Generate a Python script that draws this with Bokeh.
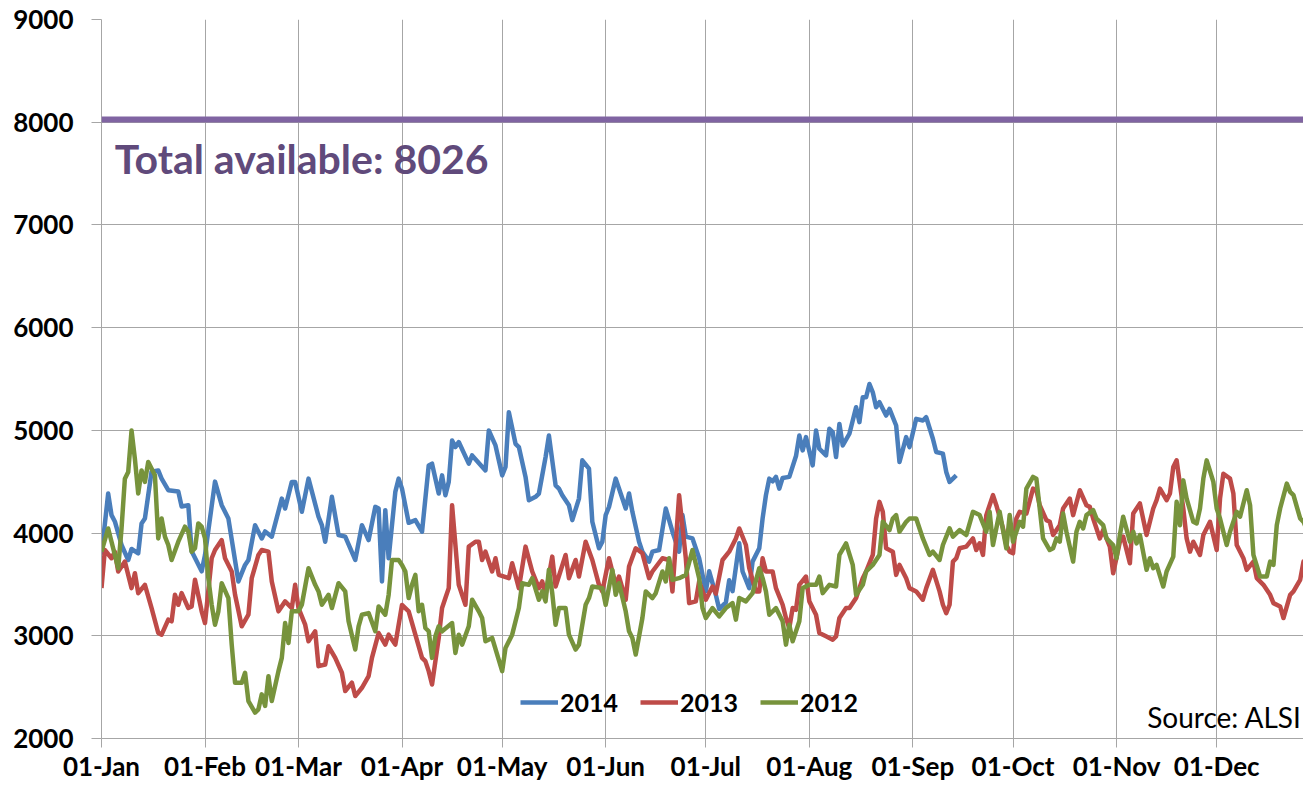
from bokeh.plotting import figure
from bokeh.models import FixedTicker, Span, Label, Legend, LegendItem, Range1d
from bokeh.embed import file_html
from bokeh.resources import INLINE

# ---- data ----
month_days = [0, 31, 59, 90, 120, 151, 181, 212, 243, 273, 304, 334]
month_labels = ["01-Jan", "01-Feb", "01-Mar", "01-Apr", "01-May", "01-Jun",
                "01-Jul", "01-Aug", "01-Sep", "01-Oct", "01-Nov", "01-Dec"]
y_ticks = [2000, 3000, 4000, 5000, 6000, 7000, 8000, 9000]
total_available = 8026
series_names = ["2014", "2013", "2012"]

# (day of year, value)
data_2014 = [(0,3790),(2,4385),(3,4175),(4,4113),(6,3884),(8,3738),(9,3845),(11,3803),(12,4094),(13,4142),
    (15,4598),(17,4610),(18,4530),(20,4417),(23,4404),(24,4259),(26,4271),(27,3822),(30,3628),(31,3786),
    (34,4501),(36,4271),(38,4142),(41,3529),(43,3690),(44,3738),(46,4077),(48,3948),(49,4016),(51,3965),
    (54,4336),(55,4239),(57,4498),(58,4498),(60,4207),(62,4530),(65,4159),(66,4077),(67,3916),(69,4353),
    (71,3981),(73,3965),(76,3738),(78,4077),(80,3932),(82,4255),(83,4239),(84,3529),(85,4223),(86,3755),
    (88,4401),(89,4530),(90,4433),(92,4100),(94,4126),(96,4013),(98,4659),(99,4676),(101,4385),(102,4562),
    (103,4369),(104,4498),(105,4902),(106,4837),(107,4886),(110,4676),(111,4756),(115,4610),(116,4999),
    (118,4853),(120,4562),(121,4643),(122,5177),(124,4869),(125,4837),(127,4547),(128,4320),(130,4353),
    (131,4385),(133,4740),(134,4950),(136,4465),(137,4433),(138,4369),(140,4271),(141,4126),(143,4336),
    (144,4708),(146,4627),(147,4110),(149,3852),(150,3916),(151,4175),(152,4255),(154,4530),(156,4336),
    (157,4239),(158,4385),(159,4207),(161,3916),(162,3819),(164,3722),(165,3819),(167,3835),(169,4239),
    (171,4013),(173,3819),(174,4175),(175,3965),(177,3948),(179,3755),(181,3435),(182,3628),(184,3398),
    (185,3260),(187,3325),(188,3540),(189,3434),(191,3900),(192,3626),(194,3464),(195,3722),(197,3852),
    (198,4142),(199,4369),(200,4530),(201,4504),(202,4547),(203,4433),(204,4537),(206,4547),(208,4750),
    (209,4950),(210,4805),(211,4934),(213,4659),(214,4999),(215,4821),(217,4756),(218,5015),(219,4983),
    (220,4740),(221,5063),(222,4853),(224,4967),(225,5096),(226,5225),(227,5080),(228,5322),(229,5322),
    (230,5451),(231,5370),(232,5225),(233,5274),(235,5144),(236,5209),(238,5047),(239,4692),(241,4934),
    (242,4837),(244,5112),(246,5096),(247,5128),(249,4918),(250,4789),(252,4773),(253,4595),(254,4498),
    (256,4562)]

data_2013 = [(0,3464),(1,3835),(3,3755),(4,3819),(5,3626),(7,3722),(9,3464),(10,3609),(11,3415),(13,3496),
    (15,3270),(17,3027),(18,3011),(20,3157),(21,3141),(22,3399),(23,3302),(24,3415),(26,3270),(27,3286),
    (28,3545),(30,3238),(31,3124),(33,3755),(34,3835),(36,3932),(37,3755),(39,3626),(40,3399),(42,3092),
    (44,3205),(45,3561),(47,3787),(48,3835),(50,3819),(51,3529),(53,3238),(55,3335),(57,3270),(58,3496),
    (59,3270),(61,3108),(62,2947),(64,3044),(65,2704),(67,2720),(68,2898),(70,2785),(72,2640),(73,2462),
    (75,2543),(76,2413),(78,2494),(80,2607),(81,2785),(83,3027),(85,2914),(86,3011),(88,2914),(90,3300),
    (92,3238),(94,3011),(96,2785),(97,2753),(98,2656),(99,2526),(101,2979),(102,3270),(103,3367),(104,3464),
    (105,4271),(107,3496),(108,3399),(109,3302),(110,3868),(112,3916),(113,3916),(114,3738),(115,3819),
    (117,3626),(118,3755),(119,3593),(122,3561),(123,3706),(125,3464),(127,3868),(129,3626),(131,3464),
    (132,3529),(133,3399),(135,3771),(136,3480),(139,3787),(140,3561),(142,3738),(143,3577),(145,3916),
    (147,3738),(149,3496),(150,3432),(152,3755),(154,3496),(155,3577),(157,3351),(158,3674),(160,3852),
    (162,3803),(164,3561),(165,3626),(168,3755),(170,3738),(171,3432),(173,4369),(175,3755),(176,3318),
    (178,3335),(179,3529),(181,3351),(183,3480),(184,3410),(186,3738),(188,3819),(190,3948),(191,4045),
    (193,3884),(194,3658),(196,3432),(197,3432),(198,3755),(199,3626),(201,3626),(202,3464),(204,3302),
    (205,3173),(206,3076),(207,3270),(208,3253),(209,3496),(211,3577),(212,3335),(214,3205),(215,3027),
    (217,2995),(219,2962),(220,2995),(221,3173),(223,3270),(224,3270),(226,3367),(227,3464),(228,3561),
    (229,3626),(231,3787),(232,4142),(233,4304),(234,4207),(235,3852),(237,3819),(238,3593),(239,3690),
    (241,3561),(242,3464),(244,3432),(246,3351),(247,3464),(249,3642),(251,3432),(252,3302),(253,3221),
    (254,3302),(255,3722),(256,3755),(257,3852),(259,3868),(261,3948),(262,3835),(263,3900),(264,3787),
    (265,4175),(267,4369),(268,4271),(270,4045),(271,3884),(272,3819),(273,3803),(274,4142),(275,4207),
    (277,4190),(279,4433),(280,4417),(281,4271),(283,4126),(284,4110),(285,3981),(287,4077),(288,4239),
    (290,4336),(291,4175),(293,4417),(295,4271),(296,4255),(297,4142),(299,3948),(300,4029),(302,3868),
    (303,3609),(305,3916),(306,3965),(308,3706),(309,4190),(311,4288),(313,3981),(315,4239),(316,4320),
    (317,4433),(319,4320),(320,4385),(321,4643),(322,4708),(324,4239),(325,3948),(326,3819),(327,3916),
    (329,3787),(330,3981),(332,4110),(334,3835),(335,4336),(336,4578),(338,4530),(339,4385),(340,3884),
    (342,3755),(343,3642),(345,3722),(346,3561),(348,3496),(350,3399),(351,3318),(353,3286),(354,3173),
    (356,3399),(357,3432),(359,3545),(360,3722),(361,3690),(362,3722)]

data_2012 = [(0,3819),(2,4045),(3,3916),(5,3658),(6,4045),(7,4530),(8,4595),(9,4999),(10,4724),(11,4385),
    (12,4610),(13,4498),(14,4692),(16,4562),(17,3948),(18,4142),(19,3965),(20,3884),(21,3738),(23,3916),
    (25,4062),(26,4013),(27,3819),(28,3852),(29,4094),(30,4062),(31,3948),(32,3561),(33,3302),(34,3108),
    (35,3238),(36,3512),(38,3367),(39,2914),(40,2543),(42,2543),(43,2640),(44,2365),(46,2252),(47,2284),
    (48,2430),(49,2317),(50,2607),(51,2365),(53,2656),(54,2785),(55,3124),(56,2930),(57,3238),(59,3238),
    (60,3302),(61,3480),(62,3658),(64,3496),(65,3432),(66,3302),(68,3399),(69,3270),(71,3512),(73,3432),
    (74,3141),(76,2866),(77,3092),(78,3205),(80,3221),(82,3044),(83,3286),(85,3205),(86,3399),(87,3738),
    (89,3738),(90,3690),(91,3626),(92,3367),(93,3496),(94,3593),(95,3238),(96,3302),(97,3076),(98,3044),
    (99,2785),(100,2995),(101,3092),(102,3044),(105,3124),(106,2833),(107,3011),(108,2914),(110,3092),
    (111,3351),(113,3238),(114,3173),(115,2947),(117,2979),(120,2656),(121,2882),(123,3011),(125,3270),
    (126,3512),(128,3496),(129,3561),(131,3351),(132,3432),(133,3335),(134,3642),(135,3415),(136,3108),
    (137,3270),(139,3270),(140,3011),(142,2866),(143,2914),(145,3302),(146,3367),(147,3480),(150,3464),
    (151,3302),(153,3642),(154,3399),(155,3512),(157,3238),(158,3044),(159,2979),(160,2817),(162,3173),
    (163,3432),(165,3367),(166,3415),(168,3626),(169,3529),(170,3755),(171,3545),(173,3561),(175,3593),
    (177,3835),(179,3561),(180,3270),(181,3173),(183,3270),(185,3189),(187,3270),(189,3318),(190,3157),
    (191,3367),(193,3335),(195,3415),(197,3658),(198,3561),(199,3432),(200,3205),(202,3270),(204,3141),
    (205,2914),(206,3108),(207,2947),(209,3141),(210,3464),(212,3496),(214,3496),(215,3577),(216,3415),
    (218,3496),(220,3480),(221,3787),(223,3900),(225,3690),(226,3399),(228,3496),(229,3626),(231,3690),
    (233,3787),(234,4110),(236,4029),(237,4142),(238,4175),(239,4013),(241,4110),(242,4142),(244,4142),
    (246,3948),(248,3787),(249,3819),(251,3738),(252,3884),(254,4045),(255,3965),(257,4029),(259,3981),
    (261,4207),(263,4175),(265,4013),(266,4207),(267,3884),(269,4207),(271,3852),(272,4175),(273,3916),
    (275,4110),(276,4062),(277,4433),(279,4547),(280,4530),(281,4239),(282,3948),(284,3835),(285,3852),
    (286,3948),(287,3916),(288,4190),(289,4013),(291,3722),(292,4013),(293,4110),(294,4045),(295,4175),
    (297,4223),(298,4142),(300,4077),(301,3948),(303,3884),(304,3755),(305,3981),(306,4159),(308,3916),
    (309,4013),(310,3900),(311,3981),(313,3642),(314,3755),(315,3658),(316,3690),(318,3480),(319,3626),
    (321,3771),(322,4304),(323,4077),(324,4513),(325,4336),(327,4110),(328,4094),(329,4239),(330,4530),
    (331,4708),(333,4498),(334,4239),(335,4142),(337,3884),(338,4013),(340,4207),(341,4159),(343,4417),
    (344,4271),(345,3787),(347,3577),(349,3577),(350,3722),(351,3690),(352,4077),(353,4239),(355,4482),
    (356,4401),(357,4369),(359,4142),(360,4110),(361,4029),(362,3884)]

series_data = [data_2014, data_2013, data_2012]
series_colors = ["#4A7EBB", "#BE4B48", "#77933C"]

FONT = "Lato"
GRID = "#A6A6A6"

p = figure(width=1303, height=784, output_backend="svg", toolbar_location=None,
           title=None,
           x_range=Range1d(0, 360), y_range=Range1d(2000, 9000),
           min_border_left=101, min_border_top=19, min_border_right=0,
           min_border_bottom=43)
p.outline_line_color = None
p.background_fill_color = "white"

# grids
p.xgrid.ticker = FixedTicker(ticks=month_days)
p.ygrid.ticker = FixedTicker(ticks=y_ticks)
for g in (p.xgrid, p.ygrid):
    g.grid_line_color = GRID
    g.grid_line_width = 1

# axes
p.xaxis.ticker = FixedTicker(ticks=month_days)
p.xaxis.major_label_overrides = {d: l for d, l in zip(month_days, month_labels)}
p.yaxis.ticker = FixedTicker(ticks=y_ticks)
for ax in (p.xaxis, p.yaxis):
    ax.axis_line_color = GRID
    ax.major_tick_line_color = GRID
    ax.major_tick_in = 0
    ax.minor_tick_line_color = None
    ax.major_label_text_font = FONT
    ax.major_label_text_font_style = "bold"
    ax.major_label_text_font_size = "26px"
    ax.major_label_text_color = "black"
p.xaxis.major_tick_out = 9
p.xaxis.major_label_standoff = 2
p.yaxis.major_tick_out = 10
p.yaxis.major_label_standoff = 18

# total available line + label
p.add_layout(Span(location=total_available, dimension="width",
                  line_color="#8064A2", line_width=6))
p.add_layout(Label(x=4, y=7650, text=f"Total available: {total_available}",
                   text_font=FONT, text_font_style="bold", text_font_size="41px",
                   text_color="#604A7B", text_baseline="alphabetic"))

# series
items = []
for name, data, color in zip(series_names, series_data, series_colors):
    xs = [d for d, v in data]
    ys = [v for d, v in data]
    r = p.line(xs, ys, line_color=color, line_width=4.5, line_join="round")
    items.append(LegendItem(label=name, renderers=[r]))

legend = Legend(items=items, location=(419, 21), orientation="horizontal",
                label_text_font=FONT, label_text_font_style="bold",
                label_text_font_size="25px", label_text_color="black",
                glyph_width=38, glyph_height=20, label_standoff=2, spacing=22,
                padding=0, margin=0, border_line_alpha=0, background_fill_alpha=0)
p.add_layout(legend)

p.add_layout(Label(x=359.5, y=2213, text="Source: ALSI", text_align="right",
                   text_baseline="middle", text_font=FONT, text_font_size="28px",
                   text_color="black"))

open("out.html", "w").write(file_html(p, INLINE))
